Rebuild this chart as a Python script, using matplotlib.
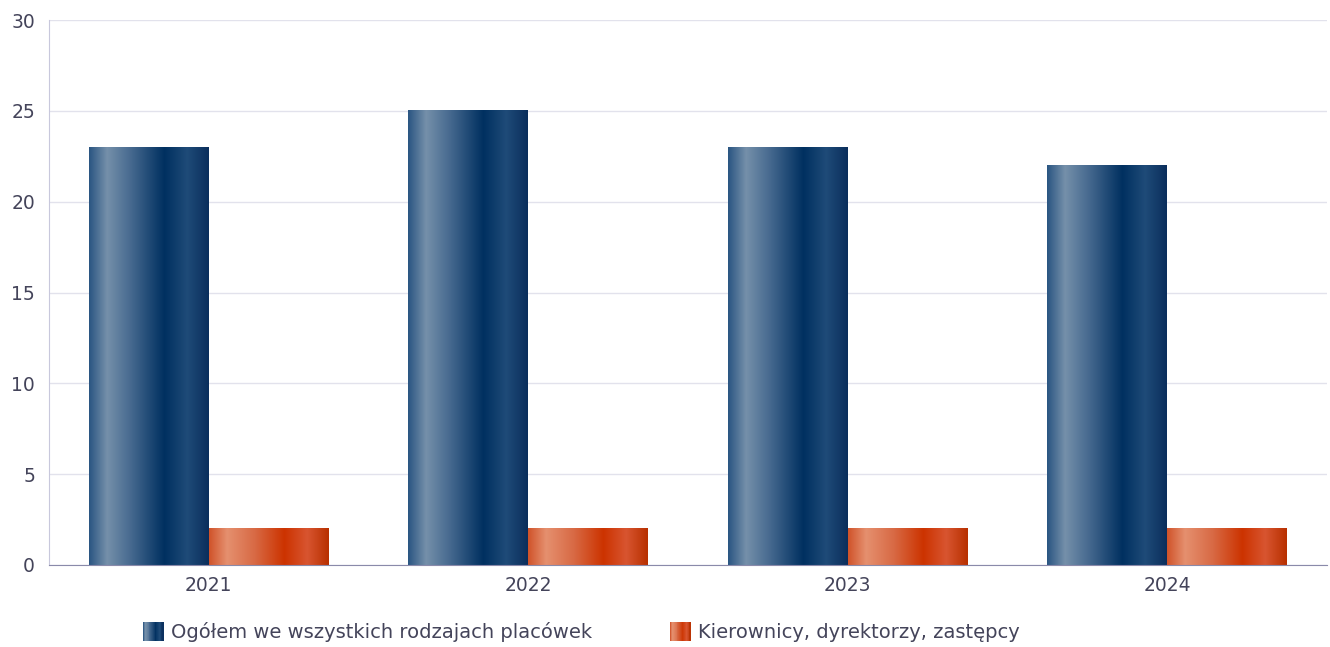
import matplotlib
matplotlib.use("Agg")
import matplotlib.pyplot as plt
import numpy as np
from matplotlib.colors import LinearSegmentedColormap
from matplotlib.legend_handler import HandlerBase
from matplotlib.patches import Rectangle

# data
years = ["2021", "2022", "2023", "2024"]
ogolem = [23, 25, 23, 22]
kierownicy = [2, 2, 2, 2]
labels = ["Ogółem we wszystkich rodzajach placówek", "Kierownicy, dyrektorzy, zastępcy"]

text_col = "#44445a"
plt.rcParams["font.family"] = ["DejaVu Sans"]

# horizontal shading of the bars
blue_cm = LinearSegmentedColormap.from_list("blue", [
    (0.0, "#2a5582"), (0.15, "#7590aa"), (0.35, "#46698f"),
    (0.63, "#003060"), (0.82, "#1f4b78"), (1.0, "#0a2e5c")])
orange_cm = LinearSegmentedColormap.from_list("orange", [
    (0.0, "#d0532a"), (0.15, "#e5906f"), (0.38, "#d86a45"),
    (0.63, "#cc3300"), (0.82, "#d85530"), (1.0, "#b83000")])


class GradHandler(HandlerBase):
    def __init__(self, cmap):
        super().__init__()
        self.cmap = cmap

    def create_artists(self, legend, orig_handle, xdescent, ydescent,
                       width, height, fontsize, trans):
        n = 24
        out = []
        for i in range(n):
            r = Rectangle((-xdescent + i * width / n, -ydescent), width / n + 0.3, height,
                          facecolor=self.cmap((i + 0.5) / n), edgecolor="none",
                          transform=trans)
            out.append(r)
        return out


fig = plt.figure(figsize=(13.3, 6.47), dpi=100)
ax = fig.add_axes([49 / 1330, 1 - 565 / 647, (1327 - 49) / 1330, (565 - 20) / 647])

x = np.arange(len(years))
w = 0.375
grad = np.linspace(0, 1, 256).reshape(1, -1)

b1 = ax.bar(x - w / 2, ogolem, w, color="none", label=labels[0])
b2 = ax.bar(x + w / 2, kierownicy, w, color="none", label=labels[1])
for bars, cm in ((b1, blue_cm), (b2, orange_cm)):
    for r in bars:
        x0, y0 = r.get_x(), r.get_y()
        ax.imshow(grad, cmap=cm, aspect="auto", interpolation="bilinear",
                  extent=[x0, x0 + r.get_width(), y0, y0 + r.get_height()], zorder=2)

ax.set_xlim(-0.5, 3.5)
ax.set_ylim(0, 30)
ax.set_yticks(range(0, 31, 5))
ax.set_xticks(x, years)
ax.grid(axis="y", color="#e2e2ec", linewidth=1)
ax.set_axisbelow(True)
for s in ("top", "right"):
    ax.spines[s].set_visible(False)
ax.spines["left"].set_color("#c8c8dc")
ax.spines["bottom"].set_color("#8a8aaa")
ax.spines["bottom"].set_zorder(3)
ax.tick_params(length=0, labelsize=13.5, colors=text_col)
ax.tick_params(axis="y", pad=10)
ax.tick_params(axis="x", pad=8)

h1 = Rectangle((0, 0), 1, 1)
h2 = Rectangle((0, 0), 1, 1)
fig.legend([h1, h2], labels, loc="center", bbox_to_anchor=(0.437, 0.023),
           ncol=2, frameon=False, fontsize=14, labelcolor=text_col,
           handler_map={h1: GradHandler(blue_cm), h2: GradHandler(orange_cm)},
           handlelength=1.05, handleheight=1.05, handletextpad=0.4, columnspacing=4.0)

fig.savefig("out.png", dpi=100)
